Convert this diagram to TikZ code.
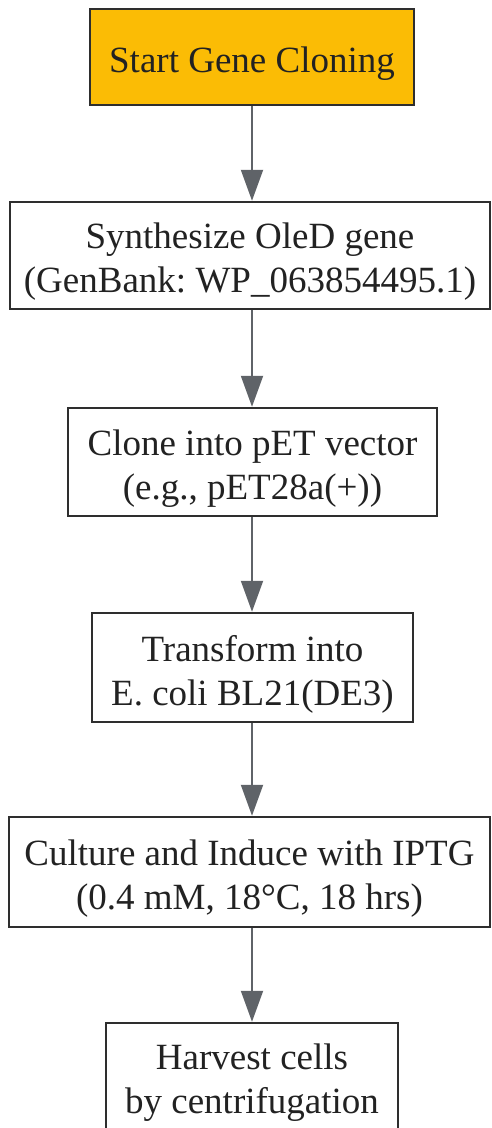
\documentclass[tikz,border=0pt]{standalone}
\usepackage{fontspec}
\setmainfont{Liberation Serif}
\frenchspacing
\usetikzlibrary{arrows.meta}
\definecolor{amber}{HTML}{FBBC05}
\definecolor{boxline}{HTML}{2E2E2E}
\definecolor{arrowgray}{HTML}{5F6368}
\definecolor{txt}{HTML}{222222}
\begin{document}
\begin{tikzpicture}[x=1pt,y=-1pt,
  stepbox/.style={draw=boxline, line width=2.5pt, fill=white, inner sep=0pt},
  steptext/.style={inner sep=0pt, align=center, text=txt, font=\fontsize{37}{44}\selectfont, yshift=-6.5pt},
  flow/.style={draw=arrowgray, line width=2pt, -{Triangle[length=31pt,width=22pt]}}]
\useasboundingbox (0,0) rectangle (491,1128);
\node[stepbox, fill=amber, minimum width=324pt, minimum height=96pt] (n1) at (252,57) {};
\node[stepbox, minimum width=480pt, minimum height=107pt] (n2) at (250,255.5) {};
\node[stepbox, minimum width=369pt, minimum height=108pt] (n3) at (252.5,462) {};
\node[stepbox, minimum width=321pt, minimum height=109pt] (n4) at (252.5,667.5) {};
\node[stepbox, minimum width=481pt, minimum height=110pt] (n5) at (249.5,872) {};
\node[stepbox, minimum width=292pt, minimum height=107pt] (n6) at (252,1076.5) {};
\node[steptext] (t1) at (n1.center) {Start Gene Cloning};
\node[steptext] (t2) at (n2.center) {Synthesize OleD gene\\(GenBank: WP\_063854495.1)};
\node[steptext] (t3) at (n3.center) {Clone into pET vector\\(e.g., pET28a(+))};
\node[steptext] (t4) at (n4.center) {Transform into\\E. coli BL21(DE3)};
\node[steptext] (t5) at (n5.center) {Culture and Induce with IPTG\\(0.4 mM, 18°C, 18 hrs)};
\node[steptext] (t6) at (n6.center) {Harvest cells\\by centrifugation};
\draw[flow] (n1.south -| 252,0) -- (n2.north -| 252,0);
\draw[flow] (n2.south -| 252,0) -- (n3.north -| 252,0);
\draw[flow] (n3.south -| 252,0) -- (n4.north -| 252,0);
\draw[flow] (n4.south -| 252,0) -- (n5.north -| 252,0);
\draw[flow] (n5.south -| 252,0) -- (n6.north -| 252,0);
\end{tikzpicture}
\end{document}
